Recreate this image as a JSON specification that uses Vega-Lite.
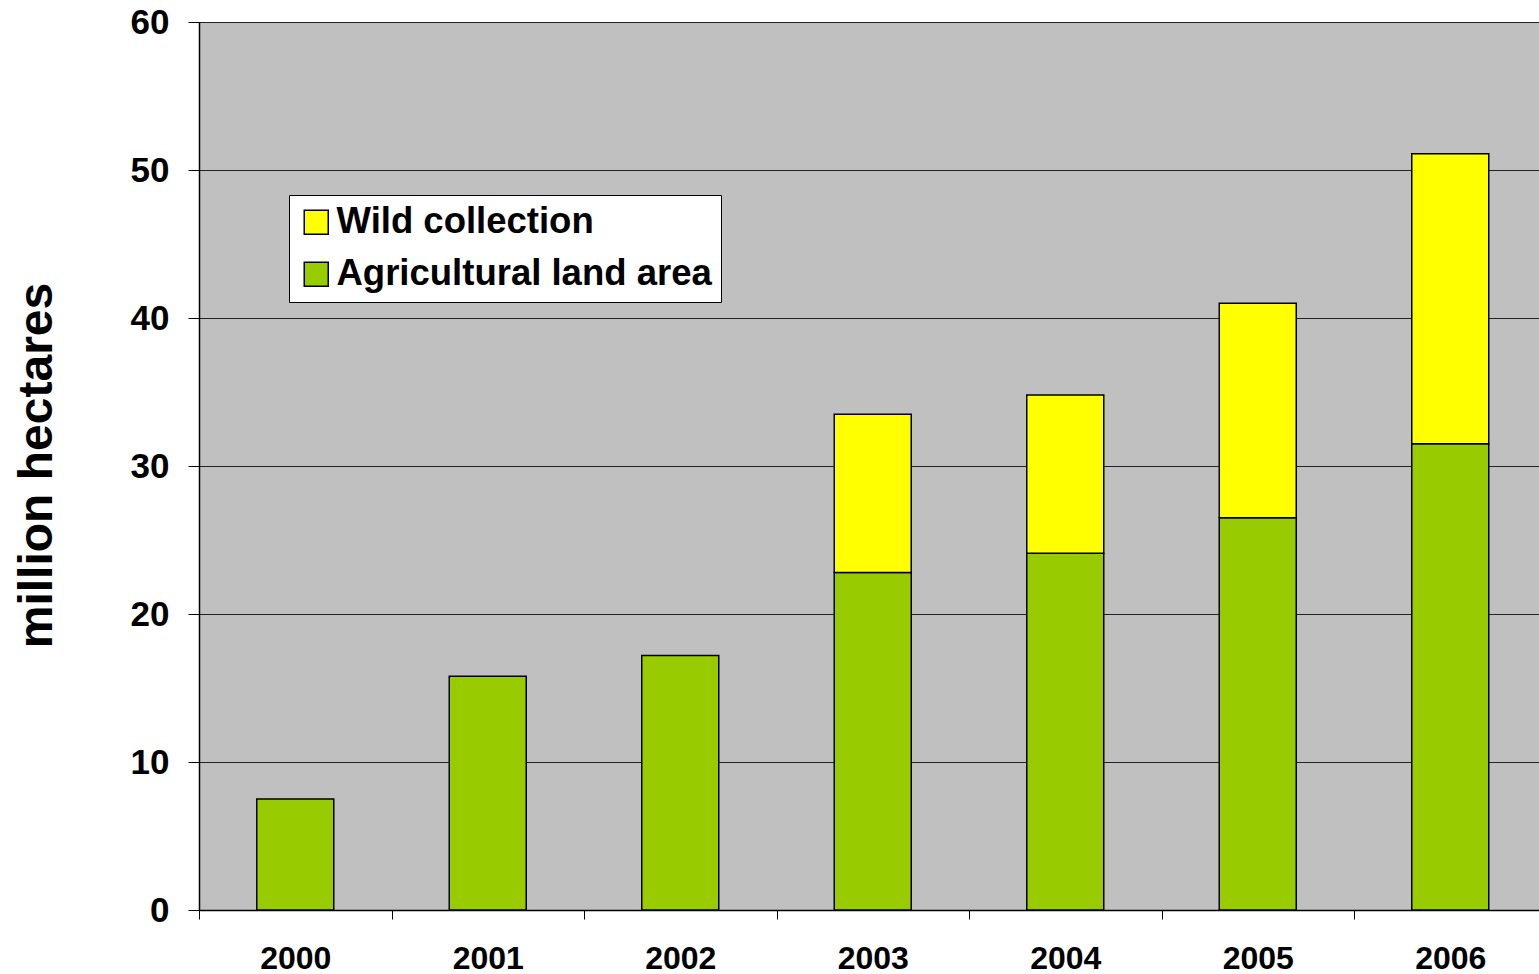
{
  "$schema": "https://vega.github.io/schema/vega-lite/v6.json",
  "autosize": {"type": "none"},
  "padding": {"left": 199, "top": 22, "right": 0, "bottom": 64},
  "width": 1347.5,
  "height": 888,
  "background": "white",
  "config": {
    "font": "Liberation Sans",
    "view": {"fill": "#C0C0C0", "stroke": null}
  },
  "data": {
    "values": [
      {"year": "2000", "type": "Agricultural land area", "stack": 0, "area": 7.5},
      {"year": "2001", "type": "Agricultural land area", "stack": 0, "area": 15.8},
      {"year": "2002", "type": "Agricultural land area", "stack": 0, "area": 17.2},
      {"year": "2003", "type": "Agricultural land area", "stack": 0, "area": 22.8},
      {"year": "2003", "type": "Wild collection", "stack": 1, "area": 10.7},
      {"year": "2004", "type": "Agricultural land area", "stack": 0, "area": 24.1},
      {"year": "2004", "type": "Wild collection", "stack": 1, "area": 10.7},
      {"year": "2005", "type": "Agricultural land area", "stack": 0, "area": 26.5},
      {"year": "2005", "type": "Wild collection", "stack": 1, "area": 14.5},
      {"year": "2006", "type": "Agricultural land area", "stack": 0, "area": 31.5},
      {"year": "2006", "type": "Wild collection", "stack": 1, "area": 19.6}
    ]
  },
  "mark": {"type": "bar", "stroke": "black", "strokeWidth": 1.5, "width": {"band": 0.4}},
  "encoding": {
    "x": {
      "field": "year",
      "type": "ordinal",
      "scale": {"paddingInner": 0, "paddingOuter": 0},
      "axis": {
        "title": null,
        "labelAngle": 0,
        "labelFont": "Liberation Sans",
        "labelFontSize": 32,
        "labelFontWeight": "bold",
        "labelColor": "black",
        "labelPadding": 24,
        "tickBand": "extent",
        "tickSize": 9,
        "tickColor": "black",
        "tickWidth": 1,
        "domainColor": "black",
        "domainWidth": 1.5,
        "grid": false
      }
    },
    "y": {
      "field": "area",
      "type": "quantitative",
      "stack": "zero",
      "scale": {"domain": [0, 60], "nice": false},
      "axis": {
        "title": "million hectares",
        "titleFont": "Liberation Sans",
        "titleFontSize": 48,
        "titleFontWeight": "bold",
        "titleColor": "black",
        "titleAngle": -90,
        "titleAlign": "center",
        "titleBaseline": "alphabetic",
        "titleX": -148,
        "titleY": 443,
        "values": [0, 10, 20, 30, 40, 50, 60],
        "labelFont": "Liberation Sans",
        "labelFontSize": 35,
        "labelFontWeight": "bold",
        "labelColor": "black",
        "labelPadding": 19,
        "tickSize": 11,
        "tickColor": "black",
        "tickWidth": 1,
        "domainColor": "black",
        "domainWidth": 1.5,
        "grid": true,
        "gridColor": "#222222",
        "gridWidth": 1
      }
    },
    "color": {
      "field": "type",
      "type": "nominal",
      "scale": {
        "domain": ["Wild collection", "Agricultural land area"],
        "range": ["#FFFF00", "#99CC00"]
      },
      "legend": {
        "title": null,
        "orient": "none",
        "legendX": 90,
        "legendY": 173,
        "fillColor": "white",
        "strokeColor": "black",
        "padding": 9,
        "symbolType": "square",
        "symbolSize": 576,
        "symbolStrokeColor": "black",
        "symbolStrokeWidth": 1.5,
        "symbolOpacity": 1,
        "labelFont": "Liberation Sans",
        "labelFontSize": 36.5,
        "labelFontWeight": "bold",
        "labelColor": "black",
        "labelOffset": 2,
        "labelLimit": 600,
        "rowPadding": 15
      }
    },
    "order": {"field": "stack", "type": "quantitative"}
  }
}
